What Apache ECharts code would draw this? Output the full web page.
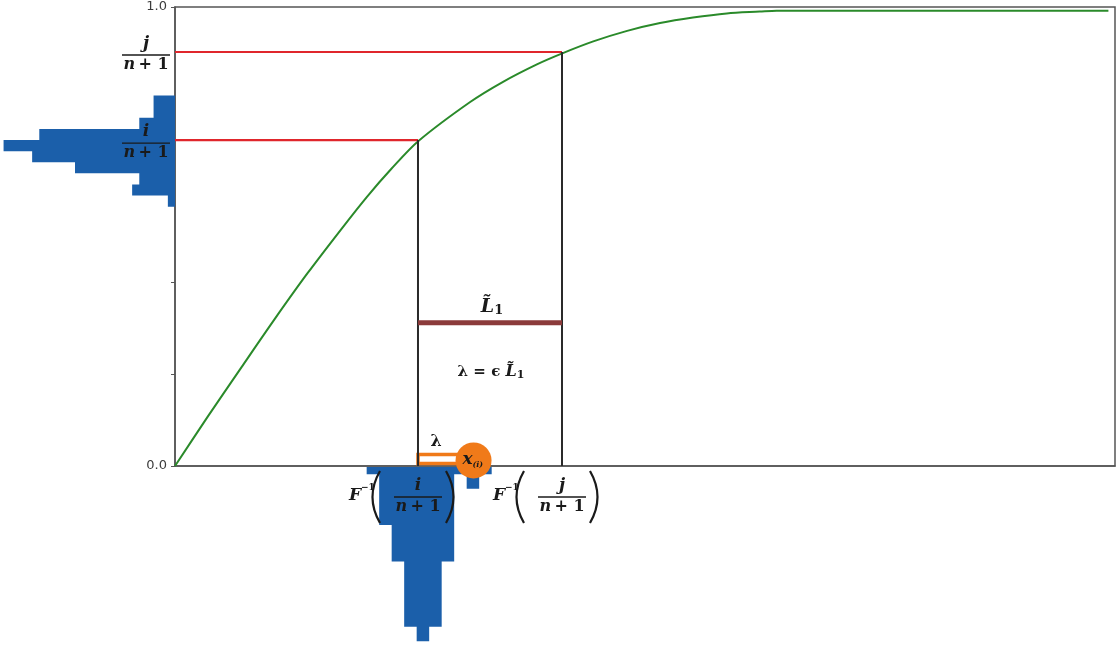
<!DOCTYPE html>
<html>
<head>
<meta charset="utf-8">
<title>Order statistic spacing</title>
<script src="https://cdn.jsdelivr.net/npm/echarts@6/dist/echarts.min.js"></script>
<style>
html, body { margin: 0; padding: 0; background: #fff; }
#chart { width: 1116px; height: 645px; }
</style>
</head>
<body>
<div id="chart"></div>
<script>
// CDF curve
const cdfX = [0, 0.35, 0.71, 1.06, 1.41, 1.78, 2.04, 2.30, 2.59, 3.14, 3.49, 3.85, 4.12, 4.45, 4.81, 5.16, 5.51, 5.87, 6.22, 6.40, 9.93];
const cdfY = [0, 0.108, 0.216, 0.320, 0.420, 0.519, 0.586, 0.647, 0.708, 0.793, 0.837, 0.875, 0.899, 0.925, 0.948, 0.965, 0.977, 0.986, 0.990, 0.992, 0.992];

// the two quantiles: F^-1(i/(n+1)) and F^-1(j/(n+1))
const quantNames = ['i', 'j'];
const quantX = [2.585, 4.117];
const quantY = [0.710, 0.902];

const barY = 0.312;          // level of the L~1 bar
const sampleX = 3.176;       // x_(i)
const sampleY = 0.012;
const lamLo = 0.0054;        // lambda box
const lamHi = 0.0251;

// sideways histogram next to the y axis (bottom bin first)
const leftBinStart = 0.565;
const leftBinWidth = 0.0242;
const leftCounts = [1, 6, 5, 14, 20, 24, 19, 5, 3, 3];

// histogram hanging under the x axis
const lowBinStart = 2.039;
const lowBinWidth = 0.133;
const lowCounts = [1, 8, 13, 22, 24, 22, 13, 1, 3, 1];

const yLabelled = [0, 1];

const blue = '#1b5faa';
const green = '#2a8a2a';
const red = '#e0262c';
const dark = '#2a2a2a';
const brown = '#8b3a3a';
const orange = '#f07a19';
const ink = '#1a1a1a';
const serif = '"DejaVu Serif", serif';

// step outline of a histogram, as [pos, count] pairs
function stepOutline(start, width, counts) {
    const pts = [[start, 0]];
    counts.forEach((c, k) => {
        pts.push([start + k * width, c]);
        pts.push([start + (k + 1) * width, c]);
    });
    pts.push([start + counts.length * width, 0]);
    return pts;
}

function seg(points, color, width, z) {
    return {type: 'line', data: points, symbol: 'none', silent: true, z: z,
        lineStyle: {color: color, width: width}};
}

function fraction(cx, cy, num) {
    return [
        {type: 'text', x: cx, y: cy - 3, style: {text: num, font: 'italic bold 17px ' + serif, fill: ink, align: 'center', verticalAlign: 'bottom'}},
        {type: 'line', shape: {x1: cx - 24, y1: cy, x2: cx + 24, y2: cy}, style: {stroke: ink, lineWidth: 1.4}},
        {type: 'text', x: cx, y: cy + 2, style: {
            text: '{n|n} {r|+ 1}', align: 'center', verticalAlign: 'top',
            rich: {
                n: {fontStyle: 'italic', fontWeight: 'bold', fontSize: 16, fontFamily: 'DejaVu Serif', fill: ink},
                r: {fontWeight: 'bold', fontSize: 16, fontFamily: 'DejaVu Serif', fill: ink}
            }
        }}
    ];
}

const chart = echarts.init(document.getElementById('chart'));

chart.setOption({
    animation: false,
    backgroundColor: '#fff',
    grid: [
        {left: 175, right: 1, top: 7, bottom: 179, show: true, borderColor: '#555', borderWidth: 1.5},
        {left: 0, width: 175, top: 7, bottom: 179},
        {left: 175, right: 1, top: 467, bottom: 0}
    ],
    xAxis: [
        {gridIndex: 0, type: 'value', min: 0, max: 10,
            axisLine: {lineStyle: {color: '#555', width: 1.5}},
            axisTick: {show: false}, axisLabel: {show: false}, splitLine: {show: false}},
        {gridIndex: 1, type: 'value', min: 0, max: 24.5, inverse: true, show: false},
        {gridIndex: 2, type: 'value', min: 0, max: 10, show: false}
    ],
    yAxis: [
        {gridIndex: 0, type: 'value', min: 0, max: 1, interval: 0.2,
            axisLine: {show: true, lineStyle: {color: '#555', width: 1.5}},
            axisTick: {show: true, length: 4, lineStyle: {color: '#555'}},
            splitLine: {show: false},
            axisLabel: {
                color: '#3c3c3c', fontSize: 13, fontFamily: 'DejaVu Sans', margin: 8,
                formatter: v => yLabelled.some(t => Math.abs(t - v) < 1e-6) ? v.toFixed(1) : ''
            }},
        {gridIndex: 1, type: 'value', min: 0, max: 1, show: false},
        {gridIndex: 2, type: 'value', min: 0, max: 24.5, inverse: true, show: false}
    ],
    series: [
        {   // histogram on the probability axis (count grows to the left)
            type: 'custom', xAxisIndex: 1, yAxisIndex: 1, data: [[0, leftBinStart]], z: 2, silent: true,
            renderItem(params, api) {
                const pts = stepOutline(leftBinStart, leftBinWidth, leftCounts).map(p => api.coord([p[1], p[0]]));
                return {type: 'polygon', shape: {points: pts}, style: {fill: blue}};
            }
        },
        {   // histogram of the samples (count grows downwards)
            type: 'custom', xAxisIndex: 2, yAxisIndex: 2, data: [[lowBinStart, 0]], z: 2, silent: true,
            renderItem(params, api) {
                const pts = stepOutline(lowBinStart, lowBinWidth, lowCounts).map(p => api.coord([p[0], p[1]]));
                return {type: 'polygon', shape: {points: pts}, style: {fill: blue}};
            }
        },
        {
            type: 'line', data: cdfX.map((x, k) => [x, cdfY[k]]), symbol: 'none', silent: true,
            smooth: 0.3, z: 3,
            lineStyle: {color: green, width: 2}
        },
        seg([[0, quantY[0]], [quantX[0], quantY[0]]], red, 2.2, 3),
        seg([[0, quantY[1]], [quantX[1], quantY[1]]], red, 2.2, 3),
        {   // lambda box
            type: 'custom', data: [[quantX[0], lamLo, sampleX, lamHi]], z: 3, silent: true,
            renderItem(params, api) {
                const a = api.coord([api.value(0), api.value(1)]);
                const b = api.coord([api.value(2), api.value(3)]);
                return {type: 'group', children: [
                    {type: 'rect', shape: {x: a[0], y: b[1], width: b[0] - a[0], height: a[1] - b[1]},
                        style: {fill: '#fff', stroke: orange, lineWidth: 3.5}},
                    {type: 'text', x: a[0] + 18, y: b[1] - 13, style: {text: 'λ', font: 'bold 16px ' + serif, fill: ink, align: 'center', verticalAlign: 'middle'}}
                ]};
            }
        },
        seg([[quantX[0], 0], [quantX[0], quantY[0]]], dark, 2, 4),
        seg([[quantX[1], 0], [quantX[1], quantY[1]]], dark, 2, 4),
        seg([[quantX[0], barY], [quantX[1], barY]], brown, 5, 4),
        {   // L~1 labels
            type: 'custom', data: [[(quantX[0] + quantX[1]) / 2, barY]], z: 6, silent: true,
            renderItem(params, api) {
                const p = api.coord([api.value(0), api.value(1)]);
                const rich = {
                    a: {fontWeight: 'bold', fontSize: 15, fontFamily: 'DejaVu Serif', fill: ink},
                    L: {fontStyle: 'italic', fontWeight: 'bold', fontSize: 16, fontFamily: 'DejaVu Serif', fill: ink},
                    s: {fontWeight: 'bold', fontSize: 11, fontFamily: 'DejaVu Serif', fill: ink, padding: [7, 0, 0, 0]},
                    L2: {fontStyle: 'italic', fontWeight: 'bold', fontSize: 19, fontFamily: 'DejaVu Serif', fill: ink},
                    s2: {fontWeight: 'bold', fontSize: 13, fontFamily: 'DejaVu Serif', fill: ink, padding: [8, 0, 0, 0]}
                };
                return {type: 'group', children: [
                    {type: 'text', x: p[0] + 2, y: p[1] - 16, style: {text: '{L2|L̃}{s2|1}', rich: rich, align: 'center', verticalAlign: 'middle'}},
                    {type: 'text', x: p[0] + 1, y: p[1] + 49, style: {text: '{a|λ = ϵ }{L|L̃}{s|1}', rich: rich, align: 'center', verticalAlign: 'middle'}}
                ]};
            }
        },
        {   // x_(i)
            type: 'custom', data: [[sampleX, sampleY]], z: 7, silent: true,
            renderItem(params, api) {
                const p = api.coord([api.value(0), api.value(1)]);
                return {type: 'group', children: [
                    {type: 'circle', shape: {cx: p[0], cy: p[1], r: 18}, style: {fill: orange}},
                    {type: 'text', x: p[0] - 6, y: p[1] - 1, style: {text: 'x', font: 'italic bold 17px ' + serif, fill: ink, align: 'center', verticalAlign: 'middle'}},
                    {type: 'text', x: p[0] - 1, y: p[1] + 4, style: {text: '(i)', font: 'italic bold 8px ' + serif, fill: ink, align: 'left', verticalAlign: 'middle'}}
                ]};
            }
        },
        {   // i/(n+1), j/(n+1) beside the y axis
            type: 'custom', data: quantY.map(v => [0, v]), z: 8, silent: true,
            renderItem(params, api) {
                const p = api.coord([0, api.value(1)]);
                return {type: 'group', children: fraction(p[0] - 29, p[1] + 3, quantNames[params.dataIndex])};
            }
        },
        {   // F^-1(.) under the x axis
            type: 'custom', data: quantX.map(v => [v, 0]), z: 8, silent: true,
            renderItem(params, api) {
                const p = api.coord([api.value(0), 0]);
                const qx = p[0], cy = p[1] + 31;
                return {type: 'group', children: [
                    {type: 'text', x: qx - 57, y: cy - 1, style: {text: 'F', font: 'italic bold 17px ' + serif, fill: ink, align: 'right', verticalAlign: 'middle'}},
                    {type: 'text', x: qx - 57, y: cy - 9, style: {text: '−1', font: 'bold 9px ' + serif, fill: ink, align: 'left', verticalAlign: 'middle'}},
                    {type: 'bezierCurve', shape: {x1: qx - 38, y1: cy - 26, x2: qx - 38, y2: cy + 26, cpx1: qx - 53, cpy1: cy}, style: {stroke: ink, lineWidth: 2.2, fill: null}},
                    {type: 'bezierCurve', shape: {x1: qx + 28, y1: cy - 26, x2: qx + 28, y2: cy + 26, cpx1: qx + 43, cpy1: cy}, style: {stroke: ink, lineWidth: 2.2, fill: null}}
                ].concat(fraction(qx, cy, quantNames[params.dataIndex]))};
            }
        }
    ]
});
</script>
</body>
</html>
